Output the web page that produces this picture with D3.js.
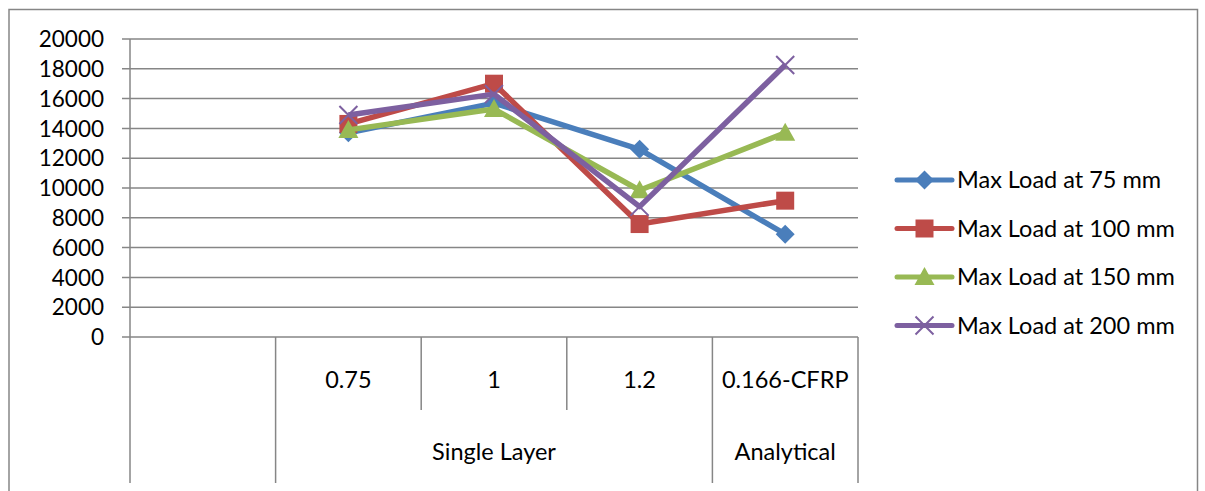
<!DOCTYPE html>
<html>
<head>
<meta charset="utf-8">
<script src="https://cdn.jsdelivr.net/npm/d3@7"></script>
<style>
  body { margin: 0; background: #fff; }
  text { font-family: Lato, "Open Sans", sans-serif; fill: #000; }
</style>
</head>
<body>
<div id="chart"></div>
<script>
// categories (first slot is blank, as in the original sheet)
var categories = ["", "0.75", "1", "1.2", "0.166-CFRP"];
var groups = [
  { name: "", from: 0, to: 0 },
  { name: "Single Layer", from: 1, to: 3 },
  { name: "Analytical", from: 4, to: 4 }
];
var seriesNames = ["Max Load at 75 mm", "Max Load at 100 mm", "Max Load at 150 mm", "Max Load at 200 mm"];
var load75  = [null, 13700, 15700, 12600, 6900];
var load100 = [null, 14300, 17000, 7580, 9150];
var load150 = [null, 13900, 15300, 9850, 13700];
var load200 = [null, 14900, 16300, 8750, 18250];
var yTicks = [0, 2000, 4000, 6000, 8000, 10000, 12000, 14000, 16000, 18000, 20000];
var colors = ["#4a7ebb", "#be4b48", "#98b954", "#7d60a0"];
var markers = ["diamond", "square", "triangle", "cross"];

var W = 1205, H = 491;
var plot = { left: 130, right: 858, top: 39, bottom: 337 };

var svg = d3.select("#chart").append("svg")
    .attr("width", W)
    .attr("height", H);

// outer frame (bottom edge falls outside the picture)
svg.append("path")
    .attr("d", "M9,500V9.5H1197.5V500")
    .attr("fill", "none")
    .attr("stroke", "#868686")
    .attr("stroke-width", 1.5);

var x = d3.scaleBand()
    .domain(categories)
    .range([plot.left, plot.right]);

var y = d3.scaleLinear()
    .domain([0, 20000])
    .range([plot.bottom, plot.top]);

// gridlines
svg.append("g").selectAll("line")
    .data(yTicks)
  .enter().append("line")
    .attr("x1", plot.left - 8)
    .attr("x2", plot.right)
    .attr("y1", function(d) { return y(d); })
    .attr("y2", function(d) { return y(d); })
    .attr("stroke", "#868686")
    .attr("stroke-width", 1.5);

// y axis line
svg.append("line")
    .attr("x1", plot.left).attr("x2", plot.left)
    .attr("y1", plot.top).attr("y2", plot.bottom)
    .attr("stroke", "#868686")
    .attr("stroke-width", 1.5);

// y tick labels
svg.append("g").selectAll("text")
    .data(yTicks)
  .enter().append("text")
    .attr("x", 104)
    .attr("y", function(d) { return y(d); })
    .attr("dy", "0.36em")
    .attr("text-anchor", "end")
    .style("font-size", "22.5px")
    .text(function(d) { return d; });

// category axis: dividers between categories
var bw = x.bandwidth();
var row1 = 410, row2 = 483;
var dividers = [];
categories.forEach(function(c, i) {
  var isGroupEdge = groups.some(function(g) { return g.from === i; });
  dividers.push({ x: x(c), bottom: isGroupEdge ? row2 : row1 });
});
dividers.push({ x: x(categories[categories.length - 1]) + bw, bottom: row2 });

svg.append("g").selectAll("line")
    .data(dividers)
  .enter().append("line")
    .attr("x1", function(d) { return d.x; })
    .attr("x2", function(d) { return d.x; })
    .attr("y1", plot.bottom)
    .attr("y2", function(d) { return d.bottom; })
    .attr("stroke", "#868686")
    .attr("stroke-width", 1.5);

svg.append("g").selectAll("text")
    .data(categories)
  .enter().append("text")
    .attr("x", function(d) { return x(d) + bw / 2; })
    .attr("y", 380)
    .attr("dy", "0.36em")
    .attr("text-anchor", "middle")
    .style("font-size", "23.5px")
    .text(function(d) { return d; });

svg.append("g").selectAll("text")
    .data(groups)
  .enter().append("text")
    .attr("x", function(g) { return (x(categories[g.from]) + x(categories[g.to]) + bw) / 2; })
    .attr("y", 452)
    .attr("dy", "0.36em")
    .attr("text-anchor", "middle")
    .style("font-size", "23.5px")
    .text(function(g) { return g.name; });

// series
var allSeries = [load75, load100, load150, load200].map(function(vals, i) {
  return {
    name: seriesNames[i],
    color: colors[i],
    marker: markers[i],
    points: vals.map(function(v, j) { return { cat: categories[j], value: v }; })
                .filter(function(p) { return p.value !== null; })
  };
});

var line = d3.line()
    .x(function(p) { return x(p.cat) + bw / 2; })
    .y(function(p) { return y(p.value); });

function markerPath(type) {
  if (type === "diamond") return "M0,-9.5L9.5,0L0,9.5L-9.5,0Z";
  if (type === "square") return "M-9,-9H9V9H-9Z";
  if (type === "triangle") return "M0,-10L10,8H-10Z";
  return "M-9,-9L9,9M-9,9L9,-9";
}

function drawMarker(sel, s) {
  sel.append("path")
      .attr("d", markerPath(s.marker))
      .attr("fill", s.marker === "cross" ? "none" : s.color)
      .attr("stroke", s.color)
      .attr("stroke-width", s.marker === "cross" ? 2 : 0);
}

allSeries.forEach(function(s) {
  var g = svg.append("g");
  g.append("path")
      .datum(s.points)
      .attr("d", line)
      .attr("fill", "none")
      .attr("stroke", s.color)
      .attr("stroke-width", 5.5)
      .attr("stroke-linejoin", "round");
  g.selectAll("g.pt")
      .data(s.points)
    .enter().append("g")
      .attr("class", "pt")
      .attr("transform", function(p) { return "translate(" + (x(p.cat) + bw / 2) + "," + y(p.value) + ")"; })
      .each(function() { drawMarker(d3.select(this), s); });
});

// legend
var legend = svg.append("g").selectAll("g")
    .data(allSeries)
  .enter().append("g")
    .attr("transform", function(s, i) { return "translate(897," + (180 + i * 48.5) + ")"; });

legend.append("line")
    .attr("x1", 0).attr("x2", 55)
    .attr("stroke", function(s) { return s.color; })
    .attr("stroke-width", 5)
    .attr("stroke-linecap", "round");

legend.each(function(s) {
  d3.select(this).append("g")
      .attr("transform", "translate(27.5,0)")
      .call(drawMarker, s);
});

legend.append("text")
    .attr("x", 60)
    .attr("dy", "0.36em")
    .style("font-size", "23.5px")
    .text(function(s) { return s.name; });
</script>
</body>
</html>
